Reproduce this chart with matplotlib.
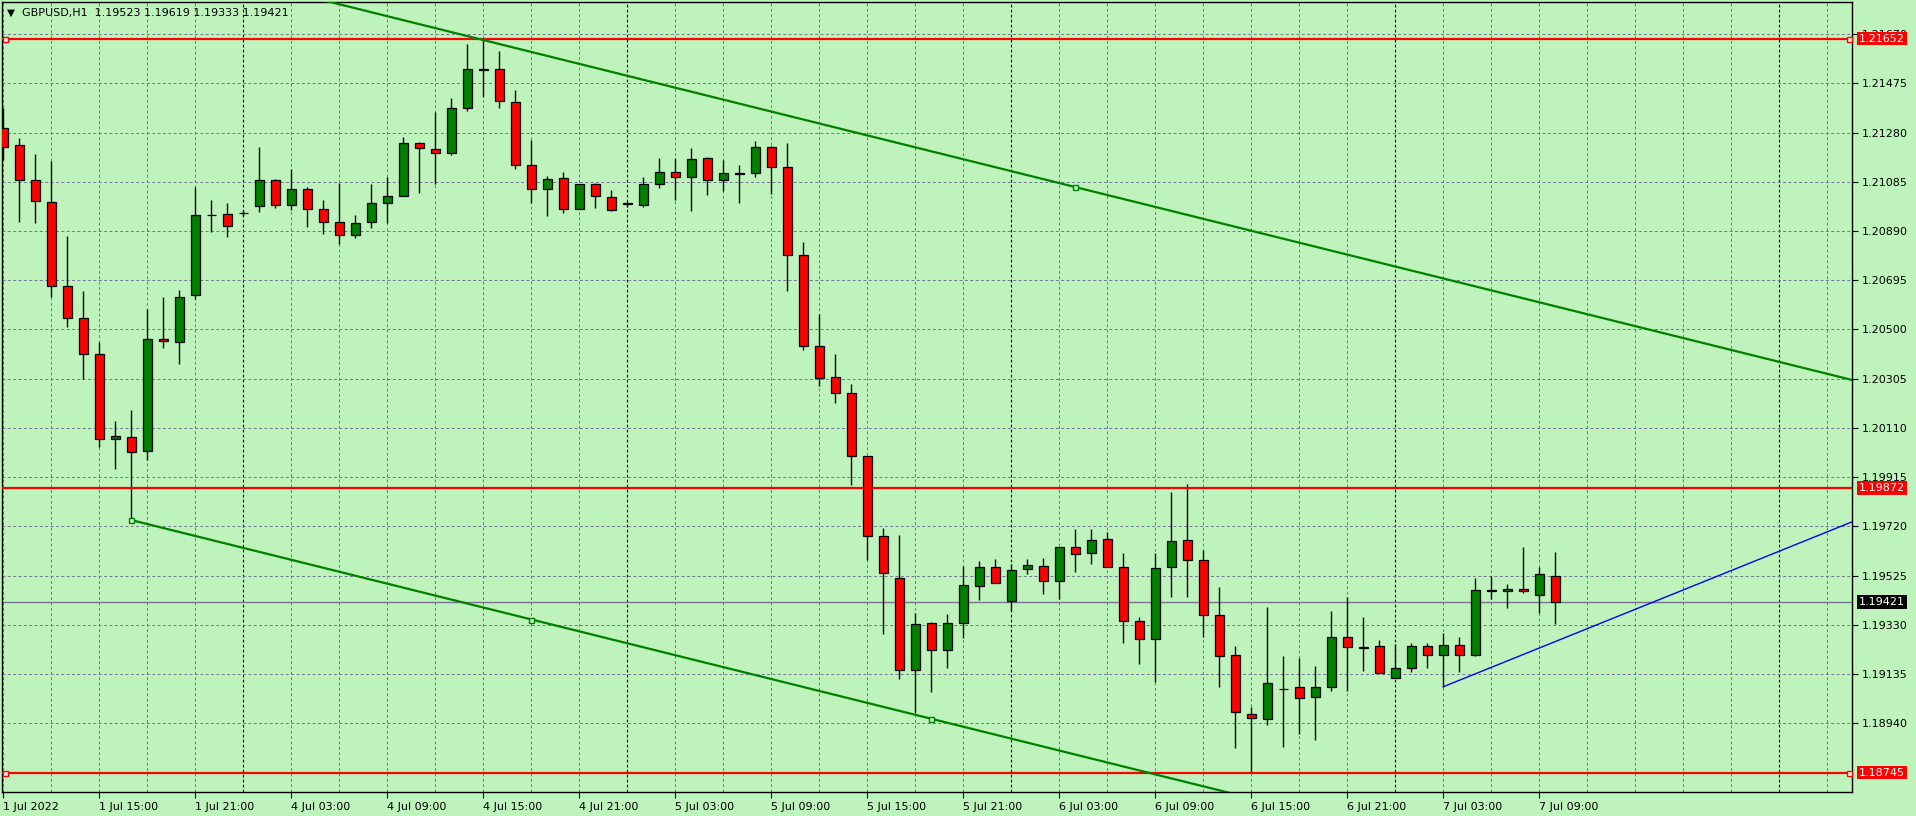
import numpy as np
import matplotlib
matplotlib.use('Agg')
import matplotlib.pyplot as plt
from matplotlib.transforms import blended_transform_factory

# GBPUSD H1 bars, 1 Jul 2022 09:00 -> 7 Jul 2022 10:00 (weekend skipped)
symbol = "GBPUSD,H1"
opens = [1.21297, 1.21229, 1.21091, 1.21004, 1.20671, 1.20544, 1.20402, 1.20065, 1.20073, 1.20017,
         1.20461, 1.20449, 1.20635, 1.20952, 1.20956, 1.20960, 1.20988, 1.21091, 1.20992, 1.21055,
         1.20976, 1.20924, 1.20873, 1.20924, 1.21000, 1.21027, 1.21237, 1.21214, 1.21198, 1.21376,
         1.21530, 1.21530, 1.21400, 1.21150, 1.21055, 1.21099, 1.20976, 1.21075, 1.21023, 1.20997,
         1.20992, 1.21075, 1.21122, 1.21103, 1.21178, 1.21091, 1.21118, 1.21118, 1.21221, 1.21142,
         1.20794, 1.20433, 1.20310, 1.20247, 1.19997, 1.19681, 1.19514, 1.19150, 1.19336, 1.19229,
         1.19336, 1.19483, 1.19558, 1.19423, 1.19550, 1.19562, 1.19502, 1.19639, 1.19613, 1.19669,
         1.19558, 1.19344, 1.19273, 1.19558, 1.19665, 1.19586, 1.19368, 1.19209, 1.18975, 1.18956,
         1.19076, 1.19082, 1.19043, 1.19082, 1.19280, 1.19242, 1.19245, 1.19120, 1.19158, 1.19245,
         1.19209, 1.19249, 1.19209, 1.19468, 1.19463, 1.19471, 1.19449, 1.19523]
highs = [1.21376, 1.21257, 1.21195, 1.21167, 1.20870, 1.20652, 1.20449, 1.20137, 1.20181, 1.20581,
         1.20628, 1.20656, 1.21064, 1.21013, 1.21001, 1.20975, 1.21223, 1.21095, 1.21136, 1.21063,
         1.21013, 1.21081, 1.20953, 1.21076, 1.21105, 1.21262, 1.21242, 1.21363, 1.21417, 1.21631,
         1.21650, 1.21603, 1.21448, 1.21250, 1.21108, 1.21124, 1.21075, 1.21079, 1.21052, 1.21004,
         1.21104, 1.21179, 1.21179, 1.21219, 1.21184, 1.21171, 1.21151, 1.21246, 1.21225, 1.21237,
         1.20845, 1.20561, 1.20403, 1.20284, 1.20000, 1.19713, 1.19686, 1.19377, 1.19340, 1.19373,
         1.19563, 1.19583, 1.19591, 1.19570, 1.19591, 1.19595, 1.19639, 1.19710, 1.19710, 1.19698,
         1.19613, 1.19360, 1.19613, 1.19856, 1.19888, 1.19626, 1.19480, 1.19245, 1.19004, 1.19399,
         1.19205, 1.19199, 1.19166, 1.19383, 1.19441, 1.19360, 1.19269, 1.19253, 1.19258, 1.19258,
         1.19298, 1.19280, 1.19514, 1.19522, 1.19490, 1.19638, 1.19560, 1.19619]
lows = [1.21171, 1.20927, 1.20923, 1.20630, 1.20511, 1.20302, 1.20036, 1.19946, 1.19745, 1.19983,
        1.20428, 1.20364, 1.20622, 1.20887, 1.20867, 1.20950, 1.20966, 1.20982, 1.20974, 1.20907,
        1.20879, 1.20838, 1.20863, 1.20900, 1.20922, 1.21027, 1.21042, 1.21076, 1.21191, 1.21366,
        1.21422, 1.21378, 1.21137, 1.21002, 1.20951, 1.20962, 1.20976, 1.20982, 1.20970, 1.20986,
        1.20986, 1.21061, 1.21013, 1.20970, 1.21034, 1.21050, 1.21002, 1.21103, 1.21036, 1.20653,
        1.20419, 1.20276, 1.20210, 1.19885, 1.19587, 1.19292, 1.19117, 1.18979, 1.19063, 1.19160,
        1.19279, 1.19429, 1.19494, 1.19385, 1.19532, 1.19453, 1.19433, 1.19540, 1.19572, 1.19558,
        1.19259, 1.19176, 1.19102, 1.19441, 1.19441, 1.19283, 1.19085, 1.18843, 1.18747, 1.18932,
        1.18847, 1.18899, 1.18872, 1.19069, 1.19069, 1.19148, 1.19138, 1.19118, 1.19144, 1.19160,
        1.19085, 1.19144, 1.19205, 1.19433, 1.19398, 1.19457, 1.19378, 1.19333]
closes = [1.21224, 1.21091, 1.21008, 1.20671, 1.20544, 1.20402, 1.20065, 1.20077, 1.20013, 1.20461,
          1.20453, 1.20627, 1.20952, 1.20954, 1.20909, 1.20962, 1.21091, 1.20992, 1.21055, 1.20976,
          1.20924, 1.20873, 1.20920, 1.21000, 1.21027, 1.21237, 1.21218, 1.21198, 1.21376, 1.21530,
          1.21527, 1.21404, 1.21150, 1.21055, 1.21095, 1.20976, 1.21075, 1.21027, 1.20972, 1.20999,
          1.21075, 1.21122, 1.21103, 1.21174, 1.21091, 1.21118, 1.21116, 1.21221, 1.21142, 1.20794,
          1.20433, 1.20306, 1.20247, 1.19997, 1.19681, 1.19534, 1.19150, 1.19332, 1.19229, 1.19336,
          1.19486, 1.19558, 1.19494, 1.19548, 1.19566, 1.19502, 1.19639, 1.19609, 1.19665, 1.19558,
          1.19344, 1.19273, 1.19554, 1.19661, 1.19586, 1.19368, 1.19205, 1.18983, 1.18960, 1.19098,
          1.19074, 1.19039, 1.19082, 1.19280, 1.19241, 1.19240, 1.19138, 1.19158, 1.19245, 1.19209,
          1.19249, 1.19209, 1.19467, 1.19466, 1.19471, 1.19463, 1.19530, 1.19421]

tick_labels = ["1 Jul 2022", "1 Jul 15:00", "1 Jul 21:00", "4 Jul 03:00", "4 Jul 09:00",
               "4 Jul 15:00", "4 Jul 21:00", "5 Jul 03:00", "5 Jul 09:00", "5 Jul 15:00",
               "5 Jul 21:00", "6 Jul 03:00", "6 Jul 09:00", "6 Jul 15:00", "6 Jul 21:00",
               "7 Jul 03:00", "7 Jul 09:00"]
tick_bars = [0, 6, 12, 18, 24, 30, 36, 42, 48, 54, 60, 66, 72, 78, 84, 90, 96]
day_breaks = [15, 39, 63, 87, 111]
price_ticks = [1.18940, 1.19135, 1.19330, 1.19525, 1.19720, 1.19915, 1.20110, 1.20305,
               1.20500, 1.20695, 1.20890, 1.21085, 1.21280, 1.21475, 1.21670]

levels = [1.21652, 1.19872, 1.18745]   # red horizontal lines
selected_levels = [1.21652, 1.18745]
bid = 1.19421

# equidistant channel: lower line anchors + upper line anchor
chan_bars = [8, 33, 58]
chan_low = [1.19745, 1.19351, 1.18958]
chan_up_bar, chan_up_price = 67, 1.21064
# blue trend line
blue_bars = [90, 115.5]
blue_prices = [1.19085, 1.19737]

BG = '#bef4bb'
GRID = '#74748f'
plt.rcParams['font.family'] = ['DejaVu Sans']

fig = plt.figure(figsize=(19.16, 8.16), dpi=100, facecolor=BG)
ax = fig.add_axes([2 / 1916, 24 / 816, 1850 / 1916, 790 / 816], facecolor=BG)

x = np.arange(len(opens))
o, h, l, c = (np.array(v) for v in (opens, highs, lows, closes))

# grid
for k in range(0, 116, 3):
    if k in day_breaks:
        continue
    ax.axvline(k, color=GRID, lw=0.7, ls=(0, (3, 2.5)), zorder=1)
for d in day_breaks:
    ax.axvline(d, color='black', lw=0.8, ls=(0, (2.5, 2)), zorder=1)
for p in price_ticks:
    ax.axhline(p, color=GRID, lw=0.7, ls=(0, (3, 2.5)), zorder=1)

ax.axhline(bid, color=GRID, lw=1, zorder=2)

# candles
ax.vlines(x, l, h, color='black', lw=1.0, zorder=3)
body_lo = np.minimum(o, c)
body_h = np.maximum(np.abs(c - o), 0.000005)
colors = np.where(c >= o, '#008000', '#ff0000')
ax.bar(x, body_h, bottom=body_lo, width=0.58, color=colors, edgecolor='black',
       linewidth=0.9, zorder=4)

# horizontal levels
blend = blended_transform_factory(ax.transAxes, ax.transData)
for p in levels:
    ax.axhline(p, color='red', lw=1.6, zorder=5)
for p in selected_levels:
    ax.plot([0.0015, 0.9984], [p, p], transform=blend, ls='none', marker='s', ms=3.6,
            mfc='white', mec='red', mew=1, zorder=6, clip_on=False)

# channel
slope = (chan_low[-1] - chan_low[0]) / (chan_bars[-1] - chan_bars[0])
xs = np.array([chan_bars[0], 116])
ax.plot(xs, chan_low[0] + slope * (xs - chan_bars[0]), color='#008000', lw=1.6, zorder=5)
ax.plot(xs, chan_up_price + slope * (xs - chan_up_bar), color='#008000', lw=1.6, zorder=5)
ax.plot(chan_bars + [chan_up_bar], chan_low + [chan_up_price], ls='none', marker='s', ms=3.6,
        mfc=BG, mec='#008000', mew=1, zorder=6)

ax.plot(blue_bars, blue_prices, color='#0000ff', lw=1, zorder=5)

ax.set_xlim(-0.08, 115.54)
ax.set_ylim(1.18668, 1.21797)

# axes
ax.yaxis.tick_right()
ax.set_yticks(price_ticks)
ax.set_yticklabels([f"{p:.5f}" for p in price_ticks])
ax.tick_params(axis='y', direction='out', length=4, width=0.8, pad=3, labelsize=8, colors='black')
ax.set_xticks(tick_bars)
ax.set_xticklabels(tick_labels, ha='left')
ax.tick_params(axis='x', direction='out', length=4, width=0.8, pad=3, labelsize=8, colors='black')
for s in ax.spines.values():
    s.set_color('black')
    s.set_linewidth(1)

# price labels on the right scale
for p in levels:
    ax.text(1.0038, p, f"{p:.5f}", transform=blend, ha='left', va='center', fontsize=8,
            color='white', zorder=7, clip_on=False,
            bbox=dict(boxstyle='square,pad=0.15', fc='red', ec='none'))
ax.text(1.0038, bid, f"{bid:.5f}", transform=blend, ha='left', va='center', fontsize=8,
        color='white', zorder=7, clip_on=False,
        bbox=dict(boxstyle='square,pad=0.15', fc='black', ec='none'))

# header
fig.text(7 / 1916, 1 - 13 / 816, '\u25bc', fontsize=7.5, va='center', ha='left')
fig.text(22 / 1916, 1 - 13 / 816,
         f"{symbol}  {opens[-1]:.5f} {highs[-1]:.5f} {lows[-1]:.5f} {closes[-1]:.5f}",
         fontsize=8, va='center', ha='left')

fig.savefig('out.png', dpi=100, facecolor=BG)
